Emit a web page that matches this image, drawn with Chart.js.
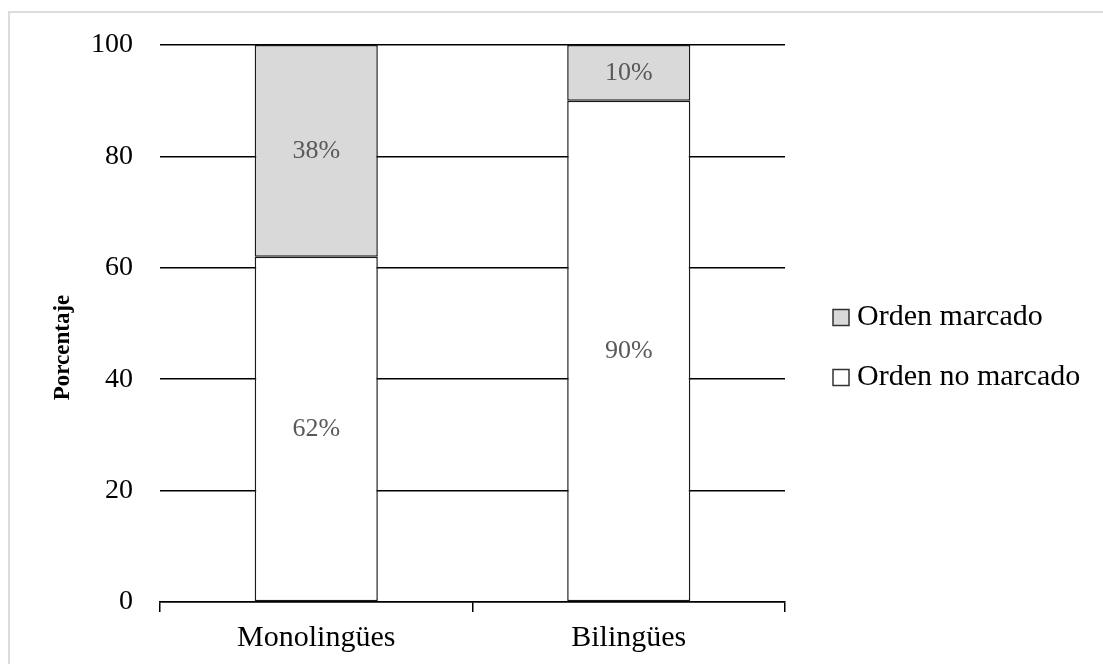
<!DOCTYPE html>
<html>
<head>
<meta charset="utf-8">
<script src="https://cdn.jsdelivr.net/npm/chart.js@4.4.0/dist/chart.umd.min.js"></script>
<style>
  html, body { margin: 0; padding: 0; background: #fff; }
  #frame {
    position: absolute; left: 8px; top: 11px; width: 1094px; height: 700px;
    border-top: 2px solid #dcdcdc; border-left: 2px solid #dcdcdc;
  }
  #wrap { position: absolute; left: 0; top: 0; width: 1103px; height: 664px; }
</style>
</head>
<body>
<div id="frame"></div>
<div id="wrap"><canvas id="chart" width="1103" height="664"></canvas></div>
<script>
var categories = ["Monolingües", "Bilingües"];
var noMarcado = [62, 90];
var marcado = [38, 10];
var labelNoMarcado = "Orden no marcado";
var labelMarcado = "Orden marcado";
var yTitle = "Porcentaje";

var serif = "'Liberation Serif', 'DejaVu Serif', serif";

// percentage text in the middle of each bar segment
var pctLabels = {
    id: 'pctLabels',
    afterDatasetsDraw: function (chart) {
        var ctx = chart.ctx;
        ctx.save();
        ctx.font = "26px " + serif;
        ctx.fillStyle = "#595959";
        ctx.textAlign = "center";
        ctx.textBaseline = "middle";
        chart.data.datasets.forEach(function (ds, i) {
            chart.getDatasetMeta(i).data.forEach(function (bar, j) {
                ctx.fillText(ds.data[j] + "%", bar.x, (bar.y + bar.base) / 2);
            });
        });
        ctx.restore();
    }
};

// legend on the right (small box, tight gap) + y axis title, Excel style
var sideStuff = {
    id: 'sideStuff',
    afterDraw: function (chart) {
        var ctx = chart.ctx;
        var area = chart.chartArea;
        var mid = (area.top + area.bottom) / 2 + 24;
        var items = Chart.defaults.plugins.legend.labels.generateLabels(chart).reverse();
        var x = area.right + 48;
        var rowGap = 60;
        var y = mid - rowGap * (items.length - 1) / 2;
        ctx.save();
        ctx.font = "30px " + serif;
        ctx.textBaseline = "middle";
        ctx.textAlign = "left";
        items.forEach(function (it) {
            ctx.fillStyle = it.fillStyle;
            ctx.fillRect(x, y - 8, 16, 16);
            ctx.strokeStyle = "#333";
            ctx.lineWidth = 1.5;
            ctx.strokeRect(x, y - 8, 16, 16);
            ctx.fillStyle = "#000";
            ctx.fillText(it.text, x + 24, y);
            y += rowGap;
        });

        ctx.translate(63, mid);
        ctx.rotate(-Math.PI / 2);
        ctx.textAlign = "center";
        ctx.font = "bold 23px " + serif;
        ctx.fillText(yTitle, 0, 0);
        ctx.restore();
    }
};

new Chart(document.getElementById("chart"), {
    type: 'bar',
    data: {
        labels: categories,
        datasets: [
            {
                label: labelNoMarcado,
                data: noMarcado,
                backgroundColor: "#ffffff",
                borderColor: "#1a1a1a",
                borderWidth: 1.5,
                borderSkipped: false
            },
            {
                label: labelMarcado,
                data: marcado,
                backgroundColor: "#d9d9d9",
                borderColor: "#1a1a1a",
                borderWidth: 1.5,
                borderSkipped: false
            }
        ]
    },
    options: {
        responsive: false,
        animation: false,
        layout: {padding: {left: 64, top: 45, right: 318, bottom: 0}},
        datasets: {bar: {categoryPercentage: 1, barPercentage: 0.394}},
        plugins: {
            tooltip: {enabled: false},
            legend: {display: false}
        },
        scales: {
            x: {
                stacked: true,
                offset: true,
                border: {display: true, color: "#000", width: 1.5},
                grid: {
                    offset: true,
                    drawOnChartArea: false,
                    drawTicks: true,
                    tickLength: 10,
                    color: "#000",
                    lineWidth: 1.5
                },
                ticks: {color: "#000", font: {family: serif, size: 30}, padding: 8}
            },
            y: {
                stacked: true,
                min: 0,
                max: 100,
                border: {display: false},
                grid: {color: "#000", lineWidth: 1.5, drawTicks: false},
                ticks: {stepSize: 20, color: "#000", font: {family: serif, size: 28}, padding: 27}
            }
        }
    },
    plugins: [pctLabels, sideStuff]
});
</script>
</body>
</html>
